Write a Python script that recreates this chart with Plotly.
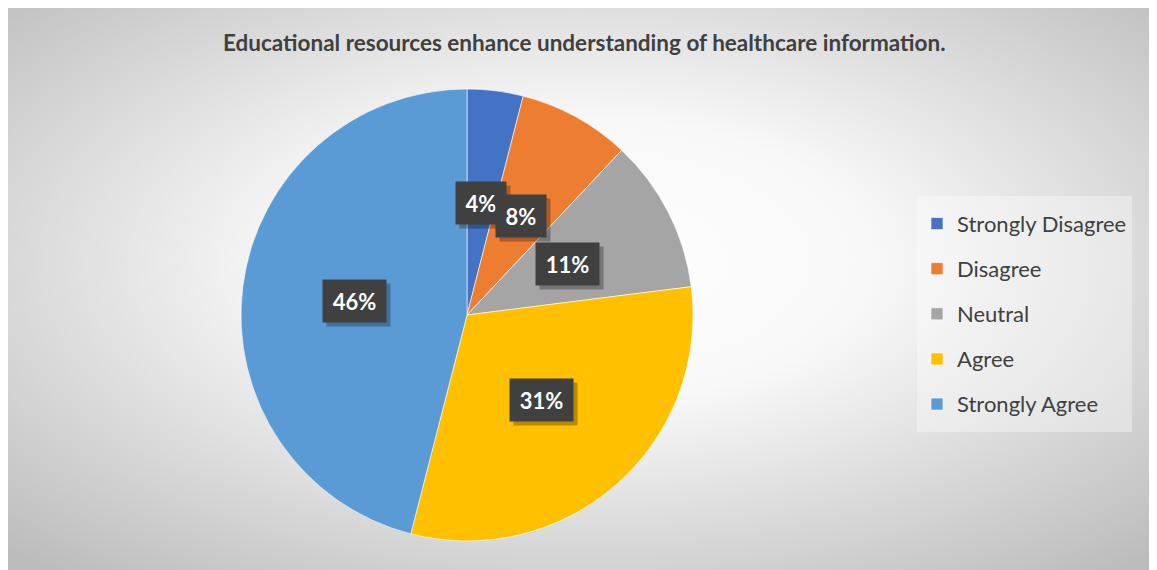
import math
import base64
import plotly.graph_objects as go

# ---- data ----
title_text = "Educational resources enhance understanding of healthcare information."
categories = ["Strongly Disagree", "Disagree", "Neutral", "Agree", "Strongly Agree"]
values = [4, 8, 11, 31, 46]
colors = ["#4472C4", "#ED7D31", "#A5A5A5", "#FFC000", "#5B9BD5"]

# ---- layout geometry (page pixels) ----
W, H = 1149, 562          # figure size
OX, OY = 8, 8             # body margin offset of the page
CX, CY, R = 467, 315, 226 # pie centre / radius on the page


def px_x(x):
    return (x - OX) / W


def px_y(y):
    return 1 - (y - OY) / H


svg = (
    "<svg xmlns='http://www.w3.org/2000/svg' width='1149' height='562'>"
    "<defs><radialGradient id='g' cx='50%' cy='45%' r='72%'>"
    "<stop offset='0%' stop-color='#ffffff'/>"
    "<stop offset='35%' stop-color='#f8f8f8'/>"
    "<stop offset='100%' stop-color='#bcbcbc'/>"
    "</radialGradient></defs>"
    "<rect width='1149' height='562' fill='url(#g)'/></svg>"
)
bg_src = "data:image/svg+xml;base64," + base64.b64encode(svg.encode()).decode()

legend_labels = [
    "&nbsp;<br>&nbsp;<br><span style='font-size:22px'>%s</span><br>&nbsp;" % c
    for c in categories
]

fig = go.Figure()
fig.add_trace(go.Pie(
    labels=legend_labels,
    values=values,
    sort=False,
    direction="clockwise",
    rotation=0,
    textinfo="none",
    hoverinfo="skip",
    marker=dict(colors=colors, line=dict(color="white", width=0.6)),
    domain=dict(x=[px_x(CX - R), px_x(CX + R)], y=[px_y(CY + R), px_y(CY - R)]),
))

# data labels (boxes) placed at half radius along each slice's mid-angle
annotations = []
total = sum(values)
cum = 0
for v in values:
    mid = (cum + v / 2) / total * 2 * math.pi
    cum += v
    lx = CX + 0.5 * R * math.sin(mid)
    ly = CY - 0.5 * R * math.cos(mid)
    pct = "%d%%" % round(v / total * 100)
    box_w = 13 * (len(pct) - 1) + 21
    common = dict(x=px_x(lx), y=px_y(ly), xref="paper", yref="paper",
                  xanchor="center", yanchor="middle", showarrow=False,
                  borderpad=8, height=26, width=box_w)
    # shadow (no text)
    annotations.append(dict(
        common, text="&nbsp;", xshift=4, yshift=-4,
        font=dict(family="Lato", size=22, color="rgba(0,0,0,0)"),
        bgcolor="rgba(0,0,0,0.28)",
    ))
    annotations.append(dict(
        common, text="<b>%s</b>" % pct,
        font=dict(family="Lato", size=22, color="white"),
        bgcolor="#404040",
    ))

annotations.append(dict(
    x=px_x(584), y=px_y(42), xref="paper", yref="paper",
    xanchor="center", yanchor="middle", showarrow=False,
    text="<b>%s</b>" % title_text,
    font=dict(family="Lato", size=22.5, color="#404040"),
))

fig.update_layout(
    width=W, height=H,
    margin=dict(l=0, r=0, t=0, b=0),
    paper_bgcolor="white",
    plot_bgcolor="rgba(0,0,0,0)",
    images=[dict(source=bg_src, xref="paper", yref="paper", x=0, y=1,
                 sizex=1, sizey=1, xanchor="left", yanchor="top",
                 sizing="stretch", layer="below")],
    annotations=annotations,
    showlegend=True,
    legend=dict(
        x=px_x(917), y=px_y(196), xanchor="left", yanchor="top",
        bgcolor="rgba(255,255,255,0.35)",
        font=dict(family="Lato", size=8.1, color="#404040"),
        traceorder="normal",
    ),
)

fig.write_html("out.html")
